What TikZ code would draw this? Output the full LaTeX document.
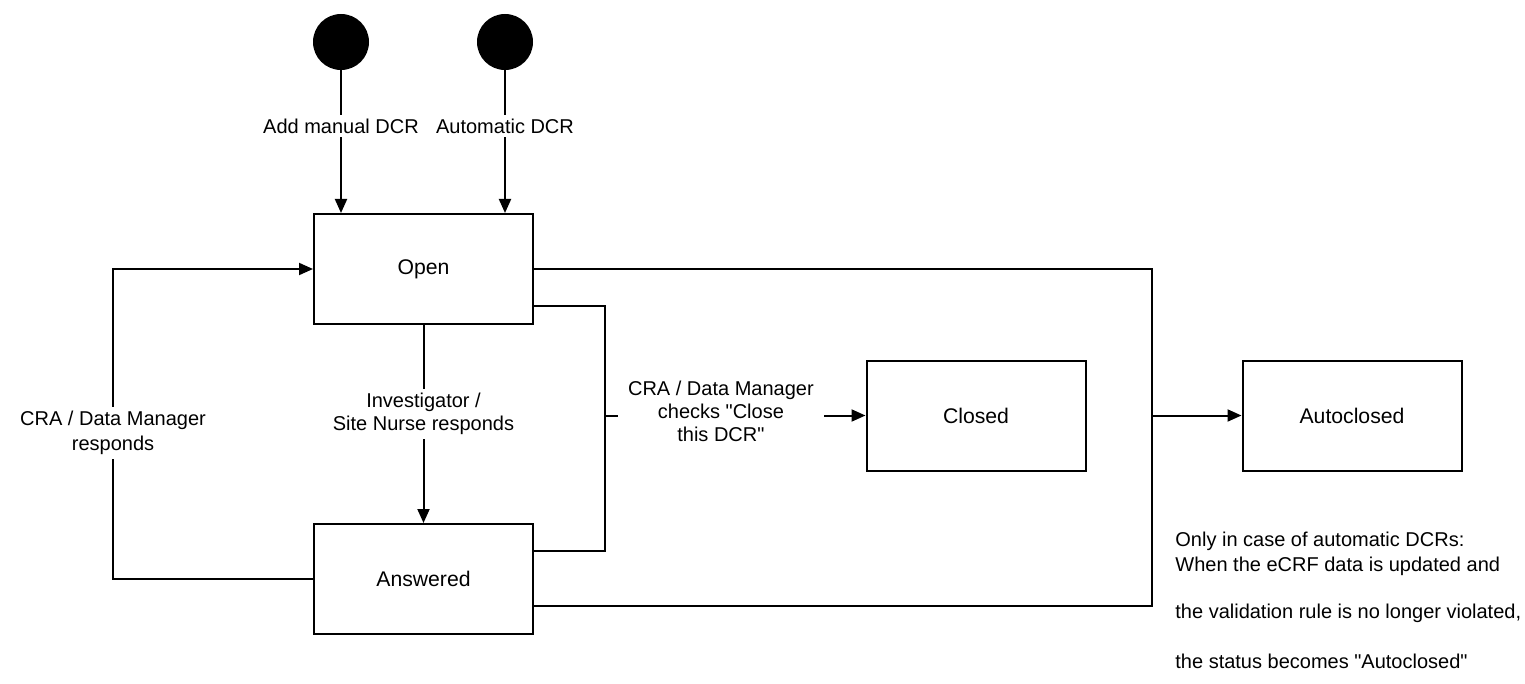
\documentclass[tikz,border=0pt]{standalone}
\usepackage{fontspec}
\setmainfont{Liberation Sans}
\usetikzlibrary{arrows.meta}
\tikzset{
	state/.style={draw, line width=1pt, minimum width=109.5pt, minimum height=55pt, font=\fontsize{10.6}{13}\selectfont},
	start/.style={circle, fill=black, minimum size=28pt, inner sep=0pt},
	lbl/.style={fill=white, align=center, inner sep=2pt, font=\fontsize{10}{11.5}\selectfont},
	note/.style={anchor=west, inner sep=0pt, font=\fontsize{10}{12}\selectfont},
	flow/.style={line width=1pt, -{Triangle[length=7pt,width=6pt]}},
	wire/.style={line width=1pt}
}
\begin{document}
\begin{tikzpicture}[x=0.5pt, y=-0.5pt]
	\useasboundingbox (0,0) rectangle (1525,684);
	\node[start] (s1) at (341,42) {};
	\node[start] (s2) at (505,42) {};
	\node[state] (open) at (423.5,269) {Open};
	\node[state] (ans) at (423.5,579) {Answered};
	\node[state] (closed) at (976,415.5) {Closed};
	\node[state] (auto) at (1352,415.5) {Autoclosed};
	\coordinate (j1) at (605,415.5);
	\coordinate (j2) at (1152,415.5);
	\coordinate (o2) at (533,306);
	\coordinate (a2) at (533,551);
	\coordinate (a3) at (533,606);

	\draw[flow] (s1) -- node[lbl, pos=0.39] {Add manual DCR} (s1 |- open.north);
	\draw[flow] (s2) -- node[lbl, pos=0.39] {Automatic DCR} (s2 |- open.north);
	\draw[flow] (open) -- node[lbl, pos=0.45] {Investigator /\\Site Nurse responds} (ans);
	\draw[flow] (ans.west) -| node[lbl, pos=0.735, font=\fontsize{10}{12.5}\selectfont] {CRA / Data Manager\\responds} (113,269) -- (open.west);

	\draw[wire] (o2) -| (j1) |- (a2);
	\draw[flow] (j1) -- node[lbl, pos=0.445, inner xsep=5pt, yshift=2pt] {CRA / Data Manager\\checks \textquotedbl Close\\this DCR\textquotedbl} (closed);
	\draw[wire] (open.east) -| (j2) |- (a3);
	\draw[flow] (j2) -- (auto);

	\node[note] (n1) at (1175,541) {Only in case of automatic DCRs:};
	\node[note] (n2) at (1175,566) {When the eCRF data is updated and};
	\node[note] (n3) at (1175,613) {the validation rule is no longer violated,};
	\node[note] (n4) at (1175,661) {the status becomes \textquotedbl Autoclosed\textquotedbl};
\end{tikzpicture}
\end{document}
